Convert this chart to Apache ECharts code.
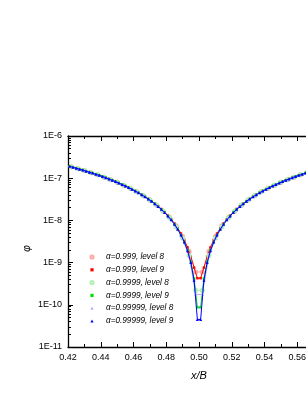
<!DOCTYPE html>
<html><head><meta charset="utf-8">
<script src="https://cdn.jsdelivr.net/npm/echarts@6/dist/echarts.min.js"></script>
<style>html,body{margin:0;padding:0;background:#fff}#c{width:306px;height:396px}</style>
</head><body><div id="c"></div>
<script>
// x positions (x/B) of the cell centres, level 9 and level 8
const xLevel9 = [0.421,0.423,0.425,0.427,0.429,0.431,0.433,0.435,0.437,0.439,0.441,0.443,0.445,0.447,0.449,0.451,0.453,0.455,0.457,0.459,0.461,0.463,0.465,0.467,0.469,0.471,0.473,0.475,0.477,0.479,0.481,0.483,0.485,0.487,0.489,0.491,0.493,0.495,0.497,0.499,
0.501,0.503,0.505,0.507,0.509,0.511,0.513,0.515,0.517,0.519,0.521,0.523,0.525,0.527,0.529,0.531,0.533,0.535,0.537,0.539,0.541,0.543,0.545,0.547,0.549,0.551,0.553,0.555,0.557,0.559,0.561,0.563,0.565,0.567,0.569,0.571,0.573,0.575,0.577,0.579];
const xLevel8 = [0.422,0.426,0.430,0.434,0.438,0.442,0.446,0.450,0.454,0.458,0.462,0.466,0.470,0.474,0.478,0.482,0.486,0.490,0.494,0.498,
0.502,0.506,0.510,0.514,0.518,0.522,0.526,0.530,0.534,0.538,0.542,0.546,0.550,0.554,0.558,0.562,0.566,0.570,0.574,0.578];

// phi values
const phiA999L8 = [1.86e-7,1.68e-7,1.52e-7,1.35e-7,1.20e-7,1.06e-7,9.25e-8,7.99e-8,6.82e-8,5.74e-8,4.75e-8,3.84e-8,3.03e-8,2.31e-8,1.68e-8,1.18e-8,7.5e-9,4.15e-9,1.82e-9,6.0e-10,
6.0e-10,1.82e-9,4.15e-9,7.5e-9,1.18e-8,1.68e-8,2.31e-8,3.03e-8,3.84e-8,4.75e-8,5.74e-8,6.82e-8,7.99e-8,9.25e-8,1.06e-7,1.20e-7,1.35e-7,1.52e-7,1.68e-7,1.86e-7];
const phiA999L9 = [1.91e-7,1.82e-7,1.73e-7,1.64e-7,1.56e-7,1.47e-7,1.39e-7,1.32e-7,1.24e-7,1.17e-7,1.10e-7,1.03e-7,9.58e-8,8.93e-8,8.30e-8,7.69e-8,7.11e-8,6.54e-8,6.00e-8,5.48e-8,4.99e-8,4.51e-8,4.06e-8,3.63e-8,3.22e-8,2.84e-8,2.48e-8,2.17e-8,1.86e-8,1.57e-8,1.30e-8,1.06e-8,8.45e-9,6.55e-9,4.88e-9,3.45e-9,2.29e-9,1.39e-9,7.6e-10,4.27e-10,
4.27e-10,7.6e-10,1.39e-9,2.29e-9,3.45e-9,4.88e-9,6.55e-9,8.45e-9,1.06e-8,1.30e-8,1.57e-8,1.86e-8,2.17e-8,2.48e-8,2.84e-8,3.22e-8,3.63e-8,4.06e-8,4.51e-8,4.99e-8,5.48e-8,6.00e-8,6.54e-8,7.11e-8,7.69e-8,8.30e-8,8.93e-8,9.58e-8,1.03e-7,1.10e-7,1.17e-7,1.24e-7,1.32e-7,1.39e-7,1.47e-7,1.56e-7,1.64e-7,1.73e-7,1.82e-7,1.91e-7];
const phiA9999L8 = [1.86e-7,1.68e-7,1.52e-7,1.35e-7,1.20e-7,1.06e-7,9.25e-8,7.99e-8,6.82e-8,5.74e-8,4.75e-8,3.84e-8,3.03e-8,2.31e-8,1.68e-8,1.15e-8,7.12e-9,3.76e-9,1.46e-9,2.2e-10,
2.2e-10,1.46e-9,3.76e-9,7.12e-9,1.15e-8,1.68e-8,2.31e-8,3.03e-8,3.84e-8,4.75e-8,5.74e-8,6.82e-8,7.99e-8,9.25e-8,1.06e-7,1.20e-7,1.35e-7,1.52e-7,1.68e-7,1.86e-7];
const phiA9999L9 = [1.91e-7,1.82e-7,1.73e-7,1.64e-7,1.56e-7,1.47e-7,1.39e-7,1.32e-7,1.24e-7,1.17e-7,1.10e-7,1.03e-7,9.58e-8,8.93e-8,8.30e-8,7.69e-8,7.11e-8,6.54e-8,6.00e-8,5.48e-8,4.99e-8,4.51e-8,4.06e-8,3.63e-8,3.22e-8,2.84e-8,2.48e-8,2.14e-8,1.83e-8,1.54e-8,1.27e-8,1.03e-8,8.11e-9,6.18e-9,4.50e-9,3.07e-9,1.95e-9,1.05e-9,4.2e-10,8.7e-11,
8.7e-11,4.2e-10,1.05e-9,1.95e-9,3.07e-9,4.50e-9,6.18e-9,8.11e-9,1.03e-8,1.27e-8,1.54e-8,1.83e-8,2.14e-8,2.48e-8,2.84e-8,3.22e-8,3.63e-8,4.06e-8,4.51e-8,4.99e-8,5.48e-8,6.00e-8,6.54e-8,7.11e-8,7.69e-8,8.30e-8,8.93e-8,9.58e-8,1.03e-7,1.10e-7,1.17e-7,1.24e-7,1.32e-7,1.39e-7,1.47e-7,1.56e-7,1.64e-7,1.73e-7,1.82e-7,1.91e-7];
const phiA99999L8 = [1.86e-7,1.68e-7,1.52e-7,1.35e-7,1.20e-7,1.06e-7,9.25e-8,7.99e-8,6.82e-8,5.74e-8,4.75e-8,3.84e-8,3.03e-8,2.31e-8,1.68e-8,1.15e-8,7.12e-9,3.76e-9,1.42e-9,1.76e-10,
1.76e-10,1.42e-9,3.76e-9,7.12e-9,1.15e-8,1.68e-8,2.31e-8,3.03e-8,3.84e-8,4.75e-8,5.74e-8,6.82e-8,7.99e-8,9.25e-8,1.06e-7,1.20e-7,1.35e-7,1.52e-7,1.68e-7,1.86e-7];
const phiA99999L9 = [1.91e-7,1.82e-7,1.73e-7,1.64e-7,1.56e-7,1.47e-7,1.39e-7,1.32e-7,1.24e-7,1.17e-7,1.10e-7,1.03e-7,9.58e-8,8.93e-8,8.30e-8,7.69e-8,7.11e-8,6.54e-8,6.00e-8,5.48e-8,4.99e-8,4.51e-8,4.06e-8,3.63e-8,3.22e-8,2.84e-8,2.48e-8,2.14e-8,1.83e-8,1.54e-8,1.27e-8,1.03e-8,8.11e-9,6.18e-9,4.50e-9,3.07e-9,1.91e-9,1.01e-9,3.81e-10,4.5e-11,
4.5e-11,3.81e-10,1.01e-9,1.91e-9,3.07e-9,4.50e-9,6.18e-9,8.11e-9,1.03e-8,1.27e-8,1.54e-8,1.83e-8,2.14e-8,2.48e-8,2.84e-8,3.22e-8,3.63e-8,4.06e-8,4.51e-8,4.99e-8,5.48e-8,6.00e-8,6.54e-8,7.11e-8,7.69e-8,8.30e-8,8.93e-8,9.58e-8,1.03e-7,1.10e-7,1.17e-7,1.24e-7,1.32e-7,1.39e-7,1.47e-7,1.56e-7,1.64e-7,1.73e-7,1.82e-7,1.91e-7];

const seriesNames = ['α=0.999, level 8','α=0.999, level 9','α=0.9999, level 8','α=0.9999, level 9','α=0.99999, level 8','α=0.99999, level 9'];
const xMin = 0.42, xMax = 0.58;
const yMin = 1e-11, yMax = 1e-6;

const FONT = 'Liberation Sans, Arial, sans-serif';
const zip = (xs, ys) => xs.map((x, i) => [x, ys[i]]);

const styles = [
  {x: xLevel8, y: phiA999L8,   symbol: 'emptyCircle', size: 3,   color: '#ffa8a8', z: 1},
  {x: xLevel9, y: phiA999L9,   symbol: 'rect',        size: 2.5, color: '#ff0000', z: 2},
  {x: xLevel8, y: phiA9999L8,  symbol: 'emptyCircle', size: 3,   color: '#b0f0b0', z: 3},
  {x: xLevel9, y: phiA9999L9,  symbol: 'rect',        size: 2.5, color: '#00e000', z: 4},
  {x: xLevel8, y: phiA99999L8, symbol: 'triangle',    size: 3,   color: '#b0b0ff', z: 5},
  {x: xLevel9, y: phiA99999L9, symbol: 'triangle',    size: 3,   color: '#0000ff', z: 6}
];

const series = styles.map((s, i) => ({
  name: seriesNames[i],
  type: 'line',
  xAxisIndex: 0, yAxisIndex: 0,
  data: zip(s.x, s.y),
  symbol: s.symbol,
  symbolSize: s.size,
  showAllSymbol: true,
  color: s.color,
  itemStyle: {color: s.color, borderColor: s.color, borderWidth: s.symbol === 'emptyCircle' ? 0.8 : 0},
  lineStyle: {color: s.color, width: 1},
  z: s.z,
  animation: false,
  clip: true
}));

// log-axis minor tick positions (2..9 × decade), in log10 units
const minorLog = [];
for (let n = -11; n < -6; n++) for (let k = 2; k <= 9; k++) minorLog.push(n + Math.log10(k));

const option = {
  animation: false,
  backgroundColor: '#fff',
  grid: {left: 68, right: -24, top: 136, bottom: 49, containLabel: false, outerBoundsMode: 'none'},
  legend: {
    left: 77, top: 247, orient: 'vertical',
    itemWidth: 18, itemHeight: 4, itemGap: 2.8,
    lineStyle: {opacity: 0},
    textStyle: {fontFamily: FONT, fontSize: 8.2, fontStyle: 'italic', color: '#000', lineHeight: 10},
    data: seriesNames
  },
  xAxis: [{
    type: 'value', min: xMin, max: xMax, interval: 0.02, position: 'bottom',
    name: 'x/B', nameLocation: 'middle', nameGap: 23, nameMoveOverlap: false,
    nameTextStyle: {fontFamily: FONT, fontSize: 11, fontStyle: 'italic', color: '#000'},
    axisLine: {lineStyle: {color: '#000', width: 1.3}},
    axisTick: {inside: true, length: 5, lineStyle: {color: '#000', width: 1}},
    minorTick: {show: true, splitNumber: 2, length: 3, lineStyle: {color: '#000', width: 1}},
    axisLabel: {fontFamily: FONT, fontSize: 9, color: '#000', margin: 6, formatter: v => v.toFixed(2)},
    splitLine: {show: false}
  }, {
    type: 'value', min: xMin, max: xMax, interval: 0.02, position: 'top',
    axisLine: {lineStyle: {color: '#000', width: 1.3}},
    axisTick: {inside: true, length: 5, lineStyle: {color: '#000', width: 1}},
    minorTick: {show: true, splitNumber: 2, length: 3, lineStyle: {color: '#000', width: 1}},
    axisLabel: {show: false},
    splitLine: {show: false}
  }],
  yAxis: [{
    type: 'log', logBase: 10, min: yMin, max: yMax, position: 'left',
    name: 'φ', nameLocation: 'middle', nameGap: 36, nameMoveOverlap: false,
    nameTextStyle: {fontFamily: FONT, fontSize: 10, fontStyle: 'italic', color: '#000', padding: [0, 14, 0, 0]},
    axisLine: {show: true, lineStyle: {color: '#000', width: 1.3}},
    axisTick: {inside: true, length: 5, lineStyle: {color: '#000', width: 1}},
    axisLabel: {fontFamily: FONT, fontSize: 9, color: '#000', margin: 6,
      formatter: v => '1E' + Math.round(Math.log10(v))},
    splitLine: {show: false}
  }, {
    type: 'value', min: -11, max: -6, position: 'left',
    axisLine: {show: false},
    axisTick: {show: true, inside: true, length: 3, customValues: minorLog, lineStyle: {color: '#000', width: 1}},
    axisLabel: {show: false},
    splitLine: {show: false}
  }],
  series: series
};

const chart = echarts.init(document.getElementById('c'), null, {renderer: 'canvas'});
chart.setOption(option);
</script>
</body></html>
